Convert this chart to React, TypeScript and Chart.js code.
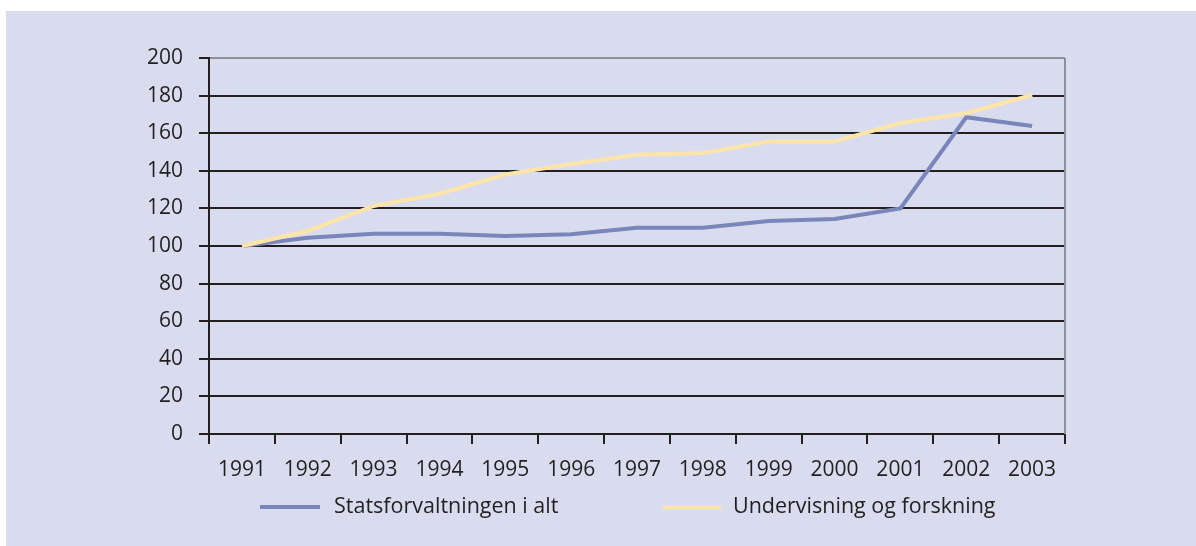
import React, { useEffect, useRef } from "react";
import { Chart, registerables } from "chart.js";

Chart.register(...registerables);

const categories = ["1991", "1992", "1993", "1994", "1995", "1996", "1997", "1998", "1999", "2000", "2001", "2002", "2003"];
const statsforvaltningen = [100, 104.4, 106.5, 106.5, 105.3, 106.3, 109.7, 109.7, 113.3, 114.4, 120, 168.5, 163.8];
const undervisning = [100, 108, 121.3, 127.8, 138, 143.6, 148.5, 149.4, 155.6, 155.6, 165.4, 170.6, 180.3];
const seriesNames = ["Statsforvaltningen i alt", "Undervisning og forskning"];
const seriesColors = ["#7a85ba", "#fde4a8"];

const FONT = "'Open Sans', 'Noto Sans', sans-serif";
const TEXT = "#231f20";

const legendPlugin = {
  id: "customLegend",
  afterDraw(chart: any) {
    const ctx = chart.ctx;
    const y = 496;
    const items = [
      { x1: 254, x2: 314, tx: 328 },
      { x1: 657, x2: 715, tx: 727 },
    ];
    ctx.save();
    ctx.font = `21.5px ${FONT}`;
    ctx.textBaseline = "middle";
    ctx.textAlign = "left";
    items.forEach((it, i) => {
      ctx.strokeStyle = seriesColors[i];
      ctx.lineWidth = 4;
      ctx.beginPath();
      ctx.moveTo(it.x1, y);
      ctx.lineTo(it.x2, y);
      ctx.stroke();
      ctx.fillStyle = TEXT;
      ctx.fillText(seriesNames[i], it.tx, y);
    });
    ctx.restore();
  },
};

const borderPlugin = {
  id: "rightBorder",
  beforeDatasetsDraw(chart: any) {
    const { ctx, chartArea } = chart;
    ctx.save();
    ctx.strokeStyle = "#8d8f99";
    ctx.lineWidth = 2;
    ctx.beginPath();
    ctx.moveTo(chartArea.right, chartArea.top);
    ctx.lineTo(chartArea.right, chartArea.bottom);
    ctx.stroke();
    ctx.restore();
  },
};

export default function App() {
  const ref = useRef<HTMLCanvasElement>(null);
  useEffect(() => {
    if (!ref.current) return;
    const chart = new Chart(ref.current, {
      type: "line",
      data: {
        labels: categories,
        datasets: [
          {
            label: seriesNames[0],
            data: statsforvaltningen,
            borderColor: seriesColors[0],
            backgroundColor: seriesColors[0],
            borderWidth: 4,
            pointRadius: 0,
            tension: 0,
            order: 1,
          },
          {
            label: seriesNames[1],
            data: undervisning,
            borderColor: seriesColors[1],
            backgroundColor: seriesColors[1],
            borderWidth: 4,
            pointRadius: 0,
            tension: 0,
            order: 0,
          },
        ],
      },
      options: {
        responsive: false,
        animation: false,
        layout: { padding: { left: 53, right: 131, top: 47, bottom: 52 } },
        plugins: { legend: { display: false }, tooltip: { enabled: false } },
        scales: {
          x: {
            type: "category",
            offset: true,
            grid: {
              offset: true,
              drawOnChartArea: false,
              drawTicks: true,
              tickLength: 10,
              color: TEXT,
              lineWidth: 2,
            },
            border: { color: TEXT, width: 2 },
            ticks: {
              color: TEXT,
              padding: 13,
              maxRotation: 0,
              autoSkip: false,
              font: { family: FONT, size: 21 },
            },
            afterFit: (s: any) => {
              s.height = 60;
            },
          },
          y: {
            min: 0,
            max: 200,
            grid: {
              color: (c: any) => (c.tick && c.tick.value === 200 ? "#8d8f99" : TEXT),
              tickColor: TEXT,
              lineWidth: 2,
              drawTicks: true,
              tickLength: 10,
            },
            border: { color: TEXT, width: 2 },
            ticks: {
              stepSize: 20,
              color: TEXT,
              padding: 16,
              font: { family: FONT, size: 21 },
            },
            afterFit: (s: any) => {
              s.width = 150;
            },
          },
        },
      },
      plugins: [legendPlugin, borderPlugin],
    });
    return () => chart.destroy();
  }, []);

  return (
    <div
      style={{
        position: "fixed",
        left: 6,
        top: 11,
        width: 1190,
        height: 535,
        background: "#d9dcee",
      }}
    >
      <canvas ref={ref} width={1190} height={535} style={{ display: "block" }} />
    </div>
  );
}
